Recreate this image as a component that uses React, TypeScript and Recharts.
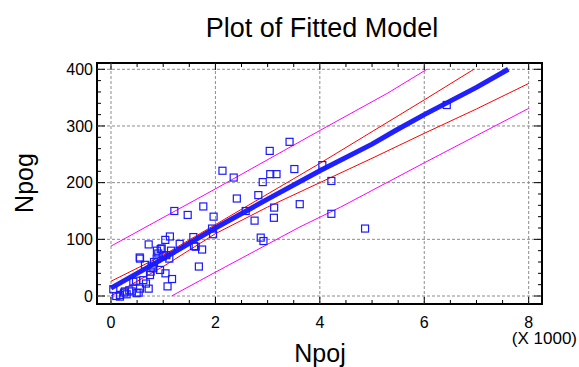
import React from 'react';
import {
  ComposedChart,
  XAxis,
  YAxis,
  Line,
  Scatter,
  ReferenceLine,
  ReferenceArea,
} from 'recharts';

// observed points (Npoj, Npog)
const obsX = [
  3420, 3040, 2135, 2350, 3050, 3170, 3512, 2906, 4048, 4221, 2410, 2822, 3615, 3125, 3120,
  2750, 2580, 1768, 1469, 1965, 1935, 1955, 1213, 1577, 1622, 1745, 1683, 2868, 2920, 4221,
  4866, 6431, 1128, 1040, 1316, 722, 952, 550, 1169, 1083, 1044, 722, 747, 670, 530, 479,
  906, 875, 824, 779, 651, 939, 760, 990, 1117, 556, 811, 1590, 971, 1060, 1150, 880,
  172, 44, 268, 396, 492, 428, 620, 172, 556, 300, 100, 350, 250,
];
const obsY = [
  272, 256, 221, 209, 215, 215, 224, 201, 231, 203, 172, 178, 162, 156, 138,
  133, 150, 158, 143, 140, 119, 109, 150, 104, 87, 82, 52, 103, 97, 145,
  119, 337, 105, 99, 92, 91, 83, 68, 30, 17, 40, 13, 37, 22, 6, 27,
  75, 66, 60, 52, 55, 46, 43, 70, 66, 66, 49, 88, 84, 72, 80, 80,
  2, 12, 8, 8, 5, 25, 28, -1, 13, 3, 0, 10, 6,
];

// fitted model and limits
const fitX = [0, 1000, 2000, 3000, 4000, 5000, 5450, 6000, 7000, 7610];
const fitY = [14, 66, 120, 171, 221, 268, 292, 320, 368, 400];
const upperConfX = [0, 1000, 2000, 3000, 4000, 5000, 6000, 6950];
const upperConfY = [26, 72, 126, 180, 234, 290, 346, 400];
const lowerConfX = [0, 1000, 2000, 3000, 4000, 5000, 6000, 7000, 8000];
const lowerConfY = [0, 52, 110, 157, 200, 243, 287, 330, 375];
const upperPredX = [0, 2000, 4000, 5300, 6050];
const upperPredY = [88, 189, 292, 358, 400];
const lowerPredX = [1160, 2000, 3620, 4400, 6000, 8000];
const lowerPredY = [0, 42, 122, 157, 235, 331];

const xMajor = [0, 2000, 4000, 6000, 8000];
const yMajor = [0, 100, 200, 300, 400];
const xTicks = Array.from({ length: 17 }, (_, i) => i * 500);
const yTicks = Array.from({ length: 21 }, (_, i) => i * 20);

const zip = (xs: number[], ys: number[]) => xs.map((x, i) => ({ x, y: ys[i] }));

const W = 579;
const H = 367;
const PLOT = { left: 97, right: 542, top: 63, bottom: 304 };
const X_DOMAIN: [number, number] = [-268, 8255];
const Y_DOMAIN: [number, number] = [-14.1, 411.1];
const FONT = '"Liberation Sans", Arial, sans-serif';

const XTick = ({ x, y, payload }: any) => {
  const v = payload.value;
  const major = v % 2000 === 0;
  const len = major ? 7 : 4;
  return (
    <g>
      <line x1={x} x2={x} y1={PLOT.bottom} y2={PLOT.bottom - len} stroke="#000" strokeWidth={1} />
      <line x1={x} x2={x} y1={PLOT.top} y2={PLOT.top + len} stroke="#000" strokeWidth={1} />
      {major && (
        <text x={x} y={y + 23.5} textAnchor="middle" fontSize={16} fontFamily={FONT} fill="#000">
          {v / 1000}
        </text>
      )}
    </g>
  );
};

const YTick = ({ y, payload }: any) => {
  const v = payload.value;
  const major = v % 100 === 0;
  const len = major ? 8 : 4;
  return (
    <g>
      <line x1={PLOT.left} x2={PLOT.left + len} y1={y} y2={y} stroke="#000" strokeWidth={1} />
      <line x1={PLOT.right} x2={PLOT.right - len} y1={y} y2={y} stroke="#000" strokeWidth={1} />
      {major && (
        <text x={PLOT.left - 4} y={y} dy="0.36em" textAnchor="end" fontSize={16} fontFamily={FONT} fill="#000">
          {v}
        </text>
      )}
    </g>
  );
};

const Square = ({ cx, cy }: any) => (
  <rect x={cx - 3.5} y={cy - 3.5} width={7} height={7} fill="none" stroke="#1a1aff" strokeWidth={1.2} />
);

export default function App() {
  const obs = zip(obsX, obsY);
  return (
    <div style={{ position: 'absolute', left: 0, top: 0, width: W, height: H, background: '#fff' }}>
      <ComposedChart
        width={W}
        height={H}
        margin={{ top: PLOT.top, right: W - PLOT.right, bottom: 0, left: 0 }}
      >
        <XAxis
          dataKey="x"
          type="number"
          domain={X_DOMAIN}
          allowDataOverflow
          ticks={xTicks}
          interval={0}
          tick={<XTick />}
          tickLine={false}
          axisLine={false}
          tickSize={0}
          tickMargin={0}
          height={H - PLOT.bottom}
        />
        <YAxis
          dataKey="y"
          type="number"
          domain={Y_DOMAIN}
          allowDataOverflow
          ticks={yTicks}
          interval={0}
          tick={<YTick />}
          tickLine={false}
          axisLine={false}
          tickSize={0}
          tickMargin={0}
          width={PLOT.left}
        />
        {xMajor.map((v) => (
          <ReferenceLine key={`gx${v}`} x={v} stroke="#8c8c8c" strokeDasharray="3 2" strokeWidth={1} />
        ))}
        {yMajor.map((v) => (
          <ReferenceLine key={`gy${v}`} y={v} stroke="#8c8c8c" strokeDasharray="3 2" strokeWidth={1} />
        ))}
        <Scatter data={obs} dataKey="y" shape={<Square />} isAnimationActive={false} />
        <Line data={zip(fitX, fitY)} dataKey="y" type="linear" stroke="#1f1fff" strokeWidth={5} dot={false} isAnimationActive={false} />
        <Line data={zip(upperConfX, upperConfY)} dataKey="y" type="linear" stroke="#ff0000" strokeWidth={1} dot={false} isAnimationActive={false} />
        <Line data={zip(lowerConfX, lowerConfY)} dataKey="y" type="linear" stroke="#ff0000" strokeWidth={1} dot={false} isAnimationActive={false} />
        <Line data={zip(upperPredX, upperPredY)} dataKey="y" type="linear" stroke="#ff00ff" strokeWidth={1} dot={false} isAnimationActive={false} />
        <Line data={zip(lowerPredX, lowerPredY)} dataKey="y" type="linear" stroke="#ff00ff" strokeWidth={1} dot={false} isAnimationActive={false} />
        <ReferenceArea
          x1={X_DOMAIN[0]}
          x2={X_DOMAIN[1]}
          y1={Y_DOMAIN[0]}
          y2={Y_DOMAIN[1]}
          fill="none"
          fillOpacity={0}
          stroke="#000"
          strokeWidth={2}
        />
      </ComposedChart>
      <svg width={W} height={H} style={{ position: 'absolute', left: 0, top: 0, pointerEvents: 'none' }}>
        <text x={322} y={37} textAnchor="middle" fontSize={27} fontFamily={FONT} fill="#000">
          Plot of Fitted Model
        </text>
        <text x={320} y={362} textAnchor="middle" fontSize={25} fontFamily={FONT} fill="#000">
          Npoj
        </text>
        <text x={33} y={183} transform="rotate(-90 33 183)" textAnchor="middle" fontSize={25} fontFamily={FONT} fill="#000">
          Npog
        </text>
        <text x={577} y={344} textAnchor="end" fontSize={17} fontFamily={FONT} fill="#000">
          (X 1000)
        </text>
      </svg>
    </div>
  );
}
